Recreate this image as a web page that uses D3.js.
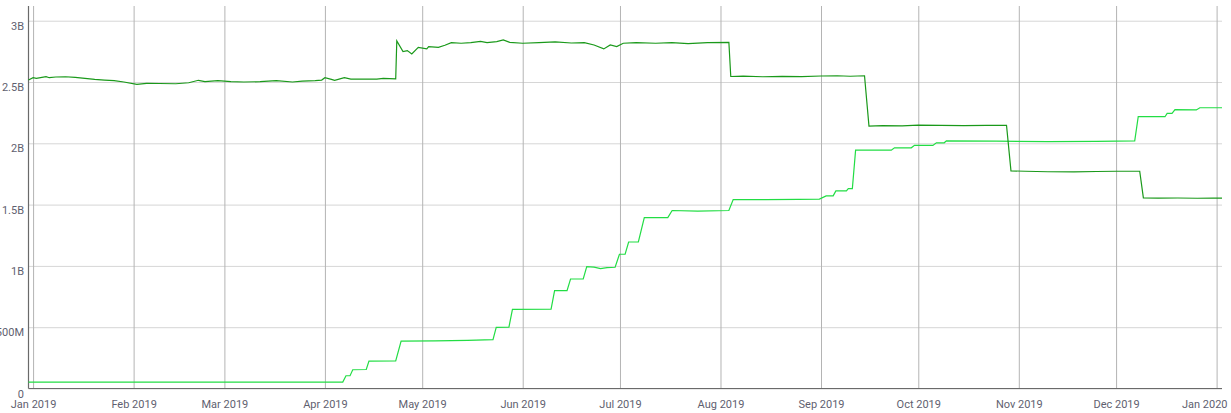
<!DOCTYPE html>
<html>
<head>
<meta charset="utf-8">
<script src="https://cdn.jsdelivr.net/npm/d3@7/dist/d3.min.js"></script>
<style>
  html, body { margin: 0; padding: 0; background: #fff; }
  svg { display: block; }
  text { font-family: Roboto, "Noto Sans", sans-serif; font-size: 11px; fill: #5f5f6f; }
</style>
</head>
<body>
<svg id="chart" width="1231" height="413"></svg>
<script>
// ---- data (values in billions) ----
const yTickValues = [0, 0.5, 1, 1.5, 2, 2.5, 3];
const yTickLabels = ["0", "500M", "1B", "1.5B", "2B", "2.5B", "3B"];
const xTickDates = ["2019-01-01","2019-02-01","2019-03-01","2019-04-01","2019-05-01","2019-06-01",
  "2019-07-01","2019-08-01","2019-09-01","2019-10-01","2019-11-01","2019-12-01","2020-01-01"];

const darkSeries = [
  ["2018-12-30T14:00", 2.516], ["2019-01-01", 2.535], ["2019-01-02", 2.530], ["2019-01-05", 2.543],
  ["2019-01-06", 2.535], ["2019-01-08", 2.541], ["2019-01-11", 2.543], ["2019-01-14", 2.538],
  ["2019-01-17", 2.530], ["2019-01-20", 2.522], ["2019-01-23", 2.516], ["2019-01-26", 2.511],
  ["2019-01-29", 2.500], ["2019-02-02", 2.481], ["2019-02-05", 2.489], ["2019-02-09", 2.488],
  ["2019-02-14", 2.486], ["2019-02-18", 2.494], ["2019-02-21", 2.514], ["2019-02-23", 2.503],
  ["2019-02-27", 2.511], ["2019-03-03", 2.503], ["2019-03-07", 2.500], ["2019-03-12", 2.503],
  ["2019-03-17", 2.511], ["2019-03-22", 2.500], ["2019-03-25", 2.508], ["2019-03-29", 2.512],
  ["2019-03-31", 2.516], ["2019-04-01", 2.535], ["2019-04-03", 2.522], ["2019-04-04", 2.514],
  ["2019-04-07", 2.535], ["2019-04-09", 2.524], ["2019-04-13", 2.524], ["2019-04-17", 2.524],
  ["2019-04-19", 2.530], ["2019-04-22T20:00", 2.526], ["2019-04-23T04:00", 2.835],
  ["2019-04-25T02:00", 2.748], ["2019-04-26T10:00", 2.756], ["2019-04-27T19:00", 2.729],
  ["2019-04-29T19:00", 2.783], ["2019-05-02T10:00", 2.770], ["2019-05-03", 2.789],
  ["2019-05-06", 2.783], ["2019-05-08", 2.800], ["2019-05-10", 2.821], ["2019-05-13", 2.816],
  ["2019-05-16", 2.821], ["2019-05-19", 2.832], ["2019-05-21", 2.821], ["2019-05-24", 2.829],
  ["2019-05-26", 2.843], ["2019-05-28", 2.824], ["2019-06-01", 2.816], ["2019-06-06", 2.821],
  ["2019-06-11", 2.827], ["2019-06-16", 2.818], ["2019-06-20", 2.821], ["2019-06-23", 2.802],
  ["2019-06-26", 2.770], ["2019-06-28", 2.802], ["2019-06-30", 2.789], ["2019-07-02", 2.816],
  ["2019-07-06", 2.821], ["2019-07-12", 2.816], ["2019-07-17", 2.821], ["2019-07-22", 2.813],
  ["2019-07-28", 2.821], ["2019-08-03T14:00", 2.824], ["2019-08-04T04:00", 2.545],
  ["2019-08-08", 2.548], ["2019-08-14", 2.543], ["2019-08-20", 2.546], ["2019-08-26", 2.544],
  ["2019-09-01", 2.549], ["2019-09-06", 2.551], ["2019-09-10", 2.547], ["2019-09-14T10:00", 2.551],
  ["2019-09-15T19:00", 2.141], ["2019-09-20", 2.145], ["2019-09-26", 2.142], ["2019-10-01", 2.149],
  ["2019-10-08", 2.147], ["2019-10-15", 2.145], ["2019-10-22", 2.146], ["2019-10-28T05:00", 2.147],
  ["2019-10-29T14:00", 1.775], ["2019-11-03", 1.772], ["2019-11-10", 1.768], ["2019-11-18", 1.767],
  ["2019-11-25", 1.770], ["2019-12-01", 1.772], ["2019-12-08T07:00", 1.772],
  ["2019-12-09T10:00", 1.555], ["2019-12-14", 1.553], ["2019-12-20", 1.554], ["2019-12-26", 1.552],
  ["2019-12-31", 1.553], ["2020-01-02T16:00", 1.553]
];

const lightSeries = [
  ["2018-12-30T14:00", 0.052], ["2019-02-01", 0.052], ["2019-03-01", 0.052],
  ["2019-04-06T12:00", 0.052], ["2019-04-07T12:00", 0.104], ["2019-04-08T18:00", 0.104],
  ["2019-04-09T14:00", 0.153], ["2019-04-13T18:00", 0.155], ["2019-04-14T14:00", 0.224],
  ["2019-04-22T20:00", 0.226], ["2019-04-24T12:00", 0.386], ["2019-05-05", 0.388],
  ["2019-05-15", 0.393], ["2019-05-22T20:00", 0.398], ["2019-05-23T20:00", 0.499],
  ["2019-05-27T18:00", 0.500], ["2019-05-28T20:00", 0.645], ["2019-06-09T18:00", 0.647],
  ["2019-06-10T20:00", 0.798], ["2019-06-14T16:00", 0.798], ["2019-06-15T18:00", 0.893],
  ["2019-06-19T16:00", 0.893], ["2019-06-20T18:00", 0.994], ["2019-06-23", 0.990],
  ["2019-06-25", 0.978], ["2019-06-27", 0.986], ["2019-06-29T12:00", 0.989],
  ["2019-06-30T20:00", 1.095], ["2019-07-02T14:00", 1.095], ["2019-07-03T16:00", 1.195],
  ["2019-07-06T16:00", 1.195], ["2019-07-08T12:00", 1.394], ["2019-07-15T18:00", 1.394],
  ["2019-07-17T02:00", 1.452], ["2019-07-25", 1.447], ["2019-08-03T14:00", 1.452],
  ["2019-08-04T22:00", 1.541], ["2019-08-15", 1.540], ["2019-08-25", 1.543],
  ["2019-08-31T12:00", 1.545], ["2019-09-02T14:00", 1.571], ["2019-09-04T18:00", 1.571],
  ["2019-09-05T14:00", 1.612], ["2019-09-08T20:00", 1.612], ["2019-09-09T10:00", 1.630],
  ["2019-09-10T16:00", 1.630], ["2019-09-11T16:00", 1.944], ["2019-09-22T16:00", 1.944],
  ["2019-09-23T16:00", 1.963], ["2019-09-28T20:00", 1.963], ["2019-09-29T20:00", 1.983],
  ["2019-10-05T12:00", 1.983], ["2019-10-06T14:00", 2.004], ["2019-10-09", 2.004],
  ["2019-10-09T16:00", 2.020], ["2019-10-25", 2.018], ["2019-11-10", 2.014],
  ["2019-11-25", 2.016], ["2019-12-06T18:00", 2.020], ["2019-12-07T20:00", 2.217],
  ["2019-12-16T02:00", 2.217], ["2019-12-16T18:00", 2.244], ["2019-12-18T06:00", 2.244],
  ["2019-12-19T04:00", 2.274], ["2019-12-25T18:00", 2.272], ["2019-12-26T20:00", 2.290],
  ["2020-01-02T16:00", 2.290]
];

// ---- layout ----
const chartW = 1231, chartH = 413;
const mLeft = 28.5, mRight = 1222, mTop = 6, mBottom = 388.5;
const yMax = 3.12;
const parse = s => new Date(s.length > 10 ? s : s + "T00:00");

const svg = d3.select("#chart");
const x = d3.scaleTime()
  .domain([parse("2018-12-30T14:00"), parse("2020-01-02T16:00")])
  .range([mLeft, mRight]);
const y = d3.scaleLinear().domain([0, yMax]).range([mBottom, mTop]);

// horizontal grid
const yAxis = d3.axisLeft(y).tickValues(yTickValues)
  .tickSize(-(mRight - mLeft)).tickFormat((d, i) => yTickLabels[i]).tickPadding(4);
const gy = svg.append("g").attr("transform", `translate(${mLeft},0)`).call(yAxis);
gy.select(".domain").remove();
gy.selectAll(".tick line").attr("stroke", "#d6d6d6").attr("stroke-width", 1);
gy.selectAll(".tick text").attr("x", -4.5).attr("dy", "8.5").attr("text-anchor", "end")
  .style("font-family", "Roboto, sans-serif").style("font-size", "11px").attr("fill", "#5f5f6f");

// vertical grid
const xTicks = xTickDates.map(parse);
const xAxis = d3.axisBottom(x).tickValues(xTicks).tickSize(-(mBottom - mTop))
  .tickFormat(d3.timeFormat("%b %Y")).tickPadding(0);
const gx = svg.append("g").attr("transform", `translate(0,${mBottom})`).call(xAxis);
gx.select(".domain").remove();
gx.selectAll(".tick line").attr("stroke", "#b4b4b4").attr("stroke-width", 1);
gx.selectAll(".tick text").attr("y", 19.5).attr("dy", null)
  .style("font-family", "Roboto, sans-serif").style("font-size", "11px").attr("fill", "#5f5f6f")
  .each(function (d) {
    const t = d3.select(this);
    const w = this.getComputedTextLength();
    const px = x(d);
    if (px + w / 2 > chartW - 4) t.attr("text-anchor", "end").attr("x", (chartW - 4) - px);
    else if (px - w / 2 < 2) t.attr("text-anchor", "start").attr("x", 2 - px);
  });

// axis lines
svg.append("line").attr("x1", mLeft).attr("x2", mLeft).attr("y1", mTop).attr("y2", mBottom)
  .attr("stroke", "#6a6a6a").attr("stroke-width", 1.2);
svg.append("line").attr("x1", mLeft).attr("x2", mRight).attr("y1", mBottom).attr("y2", mBottom)
  .attr("stroke", "#6a6a6a").attr("stroke-width", 1.2);

// lines
const line = d3.line().x(d => x(parse(d[0]))).y(d => y(d[1]));
svg.append("path").datum(lightSeries).attr("d", line)
  .attr("fill", "none").attr("stroke", "#22dd44").attr("stroke-width", 1.2);
svg.append("path").datum(darkSeries).attr("d", line)
  .attr("fill", "none").attr("stroke", "#1a991a").attr("stroke-width", 1.2);
</script>
</body>
</html>
